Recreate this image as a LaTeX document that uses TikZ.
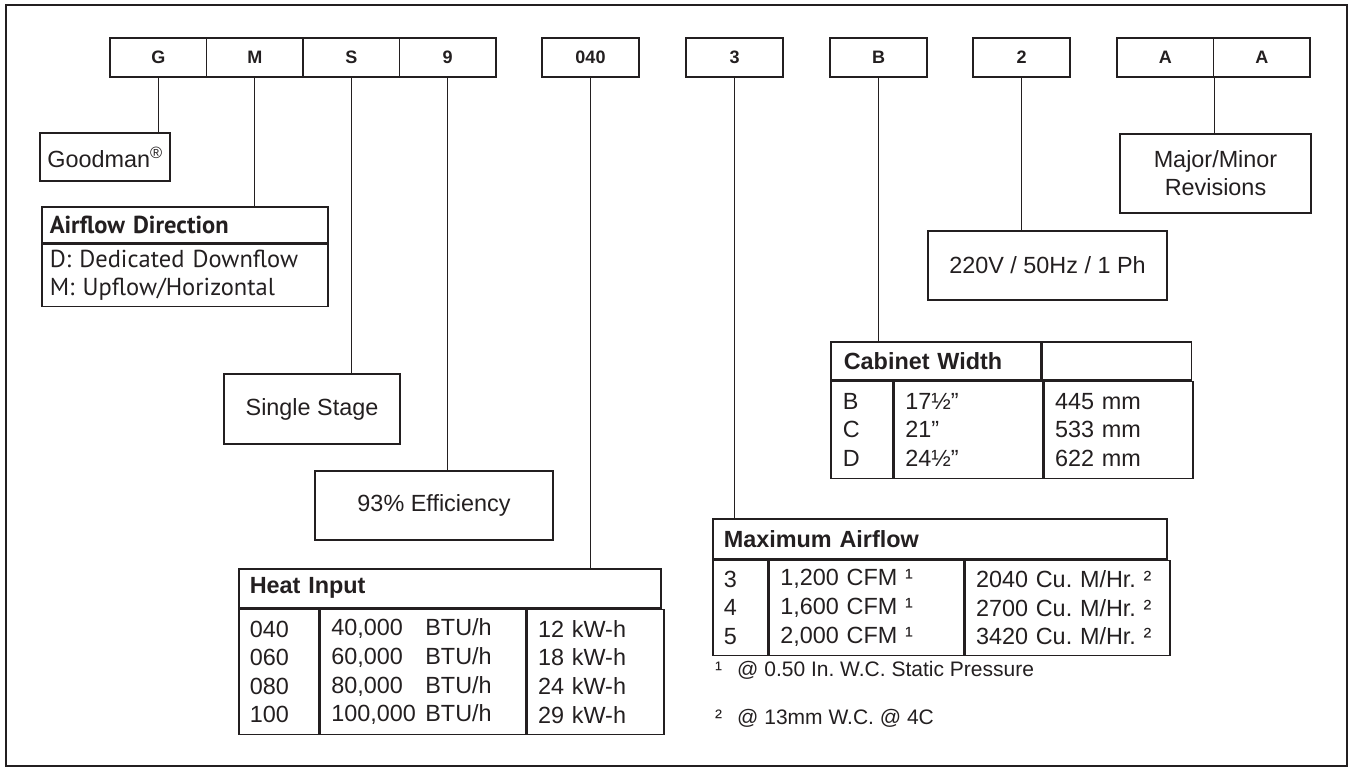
\documentclass[tikz,border=0pt]{standalone}
\usepackage{fontspec}
\setmainfont{Liberation Sans}
\newfontfamily\ptsans{PT Sans}
\usetikzlibrary{positioning,calc}
\definecolor{ink}{HTML}{231F20}
\tikzset{
  every node/.style={text=ink},
  codebox/.style={draw=ink,line width=1.8pt,minimum width=96.5pt,minimum height=39pt,inner sep=0pt,font=\bfseries\fontsize{18}{22}\selectfont},
  box/.style={draw=ink,line width=1.6pt,align=center,inner sep=0pt,font=\fontsize{23.4}{28}\selectfont},
  cell/.style={draw=ink,line width=1.6pt,anchor=north west,inner xsep=11pt,inner ysep=0pt,align=left,font=\fontsize{23.4}{28.6}\selectfont},
  head/.style={cell,font=\bfseries\fontsize{23.4}{28}\selectfont},
  dircell/.style={cell,inner xsep=8pt,font=\ptsans\fontsize{24.5}{28}\selectfont},
  stem/.style={draw=ink,line width=1.4pt},
  frame/.style={draw=ink,line width=2.6pt},
  foot/.style={anchor=west,inner sep=0pt,font=\fontsize{21}{24}\selectfont},
}
\newcommand{\btu}[1]{\makebox[94pt][l]{#1}BTU/h}

\begin{document}
\frenchspacing
\begin{tikzpicture}[x=1pt,y=-1pt]
  \useasboundingbox (0,0) rectangle (1352,768);
  \draw[frame] (6,5) rectangle (1347,766);

  % model number code
  \foreach \name/\lab/\x in {cG/G/158.25,cM/M/254.75,cS/S/351.25,c9/9/447.75,c040/040/590.5,
      c3/3/734.5,cB/B/878.5,c2/2/1021.5,cA/A/1165.25,cAA/A/1261.75}
    \node[codebox] (\name) at (\x,57.5) {\lab};

  % plain boxes
  \node[box,minimum width=130pt,minimum height=48pt] (goodman) at (105,157) {Goodman\textsuperscript{®}};
  \node[box,minimum width=191pt,minimum height=79pt] (revision) at (1215.5,173.5) {Major/Minor\\Revisions};
  \node[box,minimum width=239pt,minimum height=69pt] (power) at (1047.5,265.5) {220V / 50Hz / 1 Ph};
  \node[box,minimum width=176pt,minimum height=70pt] (stage) at (312,409) {Single Stage};
  \node[box,minimum width=238pt,minimum height=69pt] (efficiency) at (434,505.5) {93\% Efficiency};

  % airflow direction
  \node[dircell,font=\ptsans\bfseries\fontsize{24.5}{28}\selectfont,minimum width=286pt,minimum height=36pt,text width=270pt] (dirhead) at (41,206) {Airflow Direction};
  \node[dircell,minimum width=286pt,minimum height=62pt,text width=270pt] (dirbody) at (dirhead.south west) {D: Dedicated Downflow\\M: Upflow/Horizontal};

  % heat input
  \node[head,minimum width=422pt,minimum height=39pt,text width=400pt] (heathead) at (238,568) {Heat Input};
  \node[cell,minimum width=80pt,minimum height=125pt,text width=58pt] (heatcode) at (heathead.south west) {040\\060\\080\\100};
  \node[cell,minimum width=205pt,minimum height=125pt,text width=183pt] (heatbtu) at (heatcode.north east)
    {\btu{40,000}\\\btu{60,000}\\\btu{80,000}\\\btu{100,000}};
  \node[cell,minimum width=137pt,minimum height=125pt,text width=115pt] (heatkw) at (heatbtu.north east) {12 kW-h\\18 kW-h\\24 kW-h\\29 kW-h};

  % cabinet width
  \node[head,inner xsep=13pt,minimum width=210pt,minimum height=38pt,text width=184pt] (cabhead) at (830,341) {Cabinet Width};
  \node[cell,minimum width=149pt,minimum height=38pt,text width=127pt] (cabblank) at (cabhead.north east) {};
  \node[cell,inner xsep=12pt,minimum width=62pt,minimum height=97pt,text width=38pt] (cabcode) at (cabhead.south west) {B\\C\\D};
  \node[cell,minimum width=148pt,minimum height=97pt,text width=126pt] (cabinch) at (cabcode.north east) {17½”\\21”\\24½”};
  \node[cell,minimum width=149pt,minimum height=97pt,text width=127pt] (cabmm) at (cabinch.north east) {445 mm\\533 mm\\622 mm};

  % maximum airflow
  \node[head,minimum width=454pt,minimum height=40pt,text width=432pt] (airhead) at (712,518) {Maximum Airflow};
  \node[cell,minimum width=55pt,minimum height=95pt,text width=33pt] (aircode) at (airhead.south west) {3\\4\\5};
  \node[cell,minimum width=194pt,minimum height=95pt,text width=172pt] (aircfm) at (aircode.north east)
    {\mbox{1,200 CFM ¹}\\\mbox{1,600 CFM ¹}\\\mbox{2,000 CFM ¹}};
  \node[cell,minimum width=205pt,minimum height=95pt,text width=183pt] (aircmh) at (aircfm.north east)
    {\mbox{2040 Cu. M/Hr. ²}\\\mbox{2700 Cu. M/Hr. ²}\\\mbox{3420 Cu. M/Hr. ²}};
  \node[foot] (note1) at (715,670) {\makebox[22pt][l]{¹}@ 0.50 In. W.C. Static Pressure};
  \node[foot] (note2) at (715,718) {\makebox[22pt][l]{²}@ 13mm W.C. @ 4C};

  % stems
  \draw[stem] (cG.south) -- (cG.south |- goodman.north);
  \draw[stem] (cM.south) -- (cM.south |- dirhead.north);
  \draw[stem] (cS.south) -- (cS.south |- stage.north);
  \draw[stem] (c9.south) -- (c9.south |- efficiency.north);
  \draw[stem] (c040.south) -- (c040.south |- heathead.north);
  \draw[stem] (c3.south) -- (c3.south |- airhead.north);
  \draw[stem] (cB.south) -- (cB.south |- cabhead.north);
  \draw[stem] (c2.south) -- (c2.south |- power.north);
  \draw[stem] (cA.south east) -- (cA.south east |- revision.north);
\end{tikzpicture}
\end{document}
